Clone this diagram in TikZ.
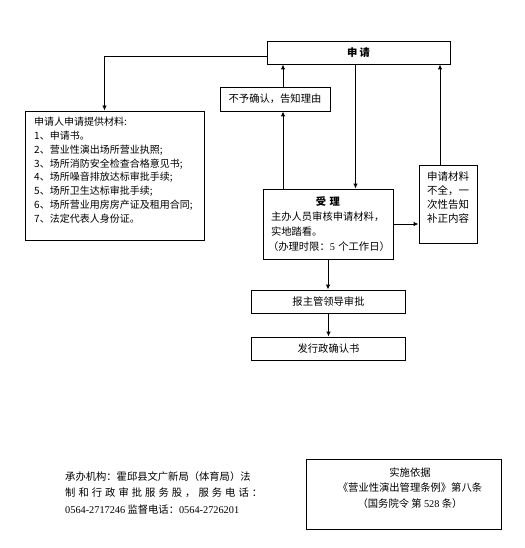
\documentclass[tikz,border=0pt]{standalone}
\usepackage{fontspec}
\setmainfont{Noto Sans CJK SC}
\newfontfamily\numfont{Liberation Serif}
\usetikzlibrary{arrows.meta}

\begin{document}
\begin{tikzpicture}[x=1pt,y=-1pt,
        box/.style={draw=black, line width=0.9pt, rectangle, inner sep=0pt},
        arr/.style={-{Latex[length=5pt,width=4.5pt]}, line width=0.9pt},
        every node/.style={font=\fontsize{10.3}{14}\selectfont}]
      \useasboundingbox (0,0) rectangle (524,548);
      % Solicitud (arriba)
      \node[box, minimum width=183pt, minimum height=23pt] (shen) at (358.5,52.5) {\bfseries 申\ 请};
      \node[box, minimum width=110pt, minimum height=24pt] (buyu) at (275,99) {不予确认，告知理由};
      % Materiales que aporta el solicitante
      \node[box, minimum width=179pt, minimum height=129pt] (cailiao) at (114.5,175.5) {};
      \node[anchor=north west, align=left, inner sep=0pt, font=\fontsize{10}{13.8}\selectfont] (cailiaotxt) at (34,117)
        {申请人申请提供材料:\\1、申请书。\\2、营业性演出场所营业执照;\\3、场所消防安全检查合格意见书;\\4、场所噪音排放达标审批手续;\\5、场所卫生达标审批手续;\\6、场所营业用房房产证及租用合同;\\7、法定代表人身份证。};
      % Aceptacion
      \node[box, minimum width=130pt, minimum height=70pt, text width=114pt, inner xsep=8pt, align=left,
        font=\fontsize{10.3}{15}\selectfont] (shouli) at (328,224)
        {\makebox[\linewidth]{\bfseries 受\ 理}\\主办人员审核申请材料，\\实地踏看。\\\mbox{\hspace{-3pt}（办理时限：{\numfont 5} 个工作日）}};
      % Materiales incompletos
      \node[box, minimum width=58pt, minimum height=78pt] (buquan) at (448,204) {};
      \node[align=left, inner sep=0pt, font=\fontsize{10.5}{14}\selectfont] (buquantxt) at (448,198)
        {申请材料\\不全，一\\次性告知\\补正内容};
      % Aprobacion y resolucion
      \node[box, minimum width=154pt, minimum height=23pt] (baopi) at (328.5,301.5) {报主管领导审批};
      \node[box, minimum width=154pt, minimum height=23pt] (faxing) at (328.5,348.5) {发行政确认书};
      % Base legal
      \node[box, minimum width=195pt, minimum height=70pt] (yiju) at (403.5,494) {};
      \node[align=center, inner sep=0pt, font=\fontsize{10.3}{15.5}\selectfont] (yijutxt) at (410,488)
        {实施依据\\《营业性演出管理条例》第八条\\（国务院令 第 {\numfont 528} 条）};
      % Organismo responsable
      \node[anchor=west, inner sep=0pt] (chengban1) at (65,477) {承办机构：霍邱县文广新局（体育局）法};
      \node[anchor=west, inner sep=0pt] (chengban2) at (65,493)
        {\makebox[197pt][s]{制\hfill 和\hfill 行\hfill 政\hfill 审\hfill 批\hfill 服\hfill 务\hfill 股\hfill ，\hfill 服\hfill 务\hfill 电\hfill 话\hfill ：}};
      \node[anchor=west, inner sep=0pt] (chengban3) at (65,510)
        {{\numfont 0564-2717246} 监督电话：{\numfont 0564-2726201}};
      % Conectores
      \coordinate (bxa) at ([xshift=8pt]buyu.south);
      \coordinate (bxb) at ([xshift=8pt]buyu.north);
      \coordinate (sxa) at ([xshift=-3pt]shen.south);
      \coordinate (qxa) at ([xshift=-8pt]buquan.north);
      \draw[arr] ([yshift=-4pt]shen.west) -| ([xshift=-10pt]cailiao.north);
      \draw[arr] (bxa |- shouli.north) -- (bxa);
      \draw[arr] (bxb) -- (bxb |- shen.south);
      \draw[arr] (sxa) -- (sxa |- shouli.north);
      \draw[arr] (shouli.east) -- (shouli.east -| buquan.west);
      \draw[arr] (qxa) -- (qxa |- shen.south);
      \draw[arr] (shouli.south) -- (shouli.south |- baopi.north);
      \draw[arr] (baopi.south) -- (faxing.north);
    \end{tikzpicture}
\end{document}
